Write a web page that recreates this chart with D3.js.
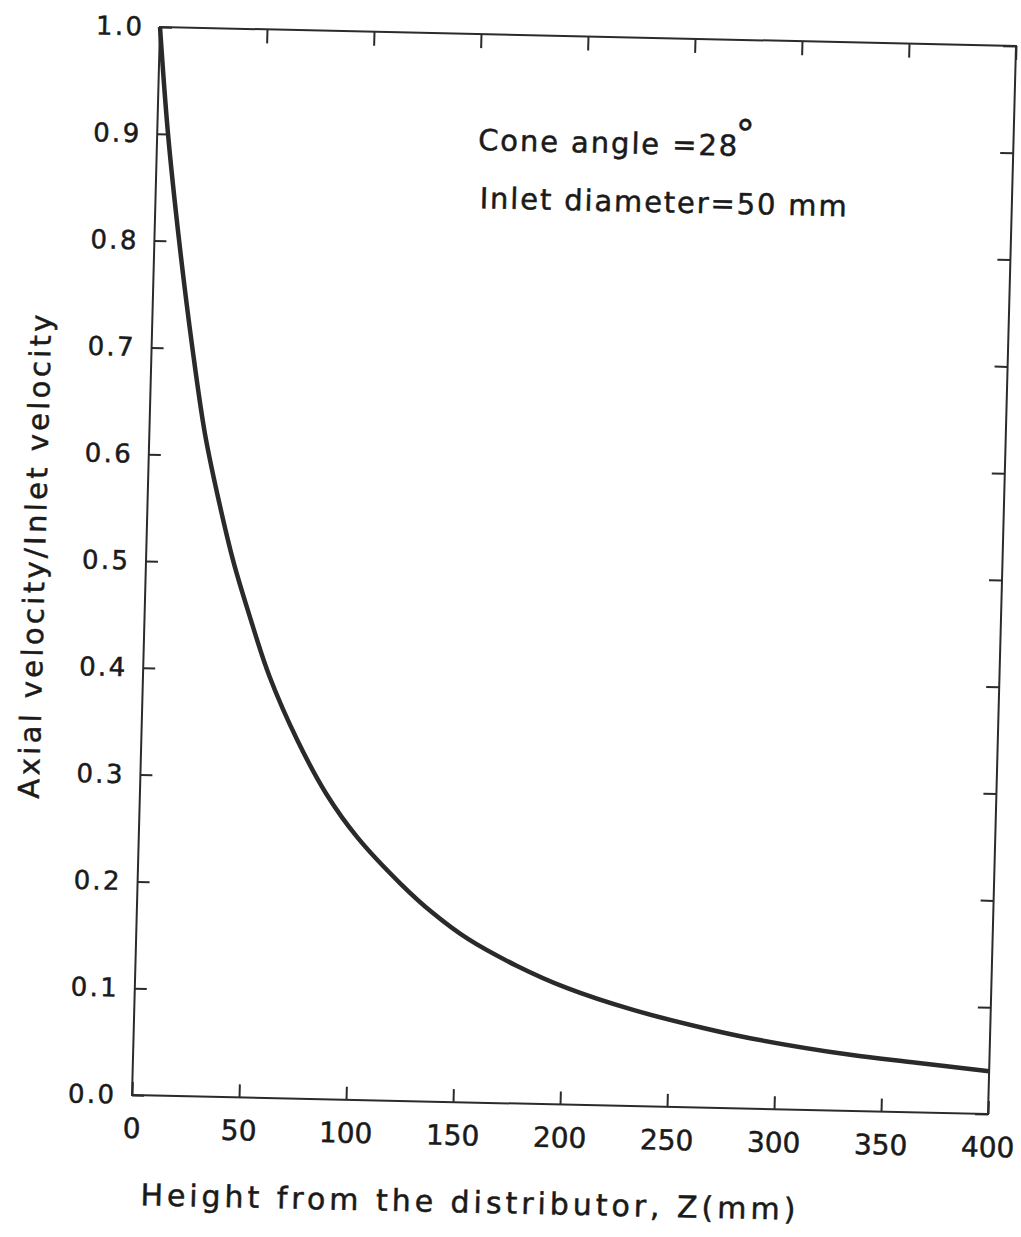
<!DOCTYPE html>
<html>
<head>
<meta charset="utf-8">
<script src="https://cdn.jsdelivr.net/npm/d3@7"></script>
<style>
  body { margin: 0; background: #fff; }
  svg { display: block; }
</style>
</head>
<body>
<svg id="chart"></svg>
<script>
// values
var heights = [0, 5, 11.5, 19, 26, 34, 41, 49, 59, 73, 87, 102, 123, 138, 155, 178, 202, 233, 265, 288, 335, 366, 400];
var velRatio = [1.000, 0.901, 0.801, 0.701, 0.620, 0.552, 0.500, 0.451, 0.395, 0.335, 0.286, 0.246, 0.203, 0.177, 0.153, 0.129, 0.109, 0.090, 0.075, 0.066, 0.0525, 0.0465, 0.040];
var xTicks = [0, 50, 100, 150, 200, 250, 300, 350, 400];
var yTicks = [0, 0.1, 0.2, 0.3, 0.4, 0.5, 0.6, 0.7, 0.8, 0.9, 1.0];
var notes = ["Cone angle =28", "Inlet diameter=50 mm"];

var width = 1021, height = 1237;
var w = 856, h = 1068;
var ink = "#2b2b2b";
var txt = "#1a1a1a";
var font = "DejaVu Sans, sans-serif";

var svg = d3.select("#chart")
    .attr("width", width)
    .attr("height", height);

svg.append("rect").attr("width", width).attr("height", height).attr("fill", "#fff");

// the scan is slightly skewed, so the whole plot sits in a sheared frame
var g = svg.append("g")
    .attr("transform", "matrix(1,0.0222,-0.0262,1,160,27)");

var x = d3.scaleLinear().domain([0, 400]).range([0, w]);
var y = d3.scaleLinear().domain([0, 1]).range([h, 0]);

function styleAxis(sel) {
  sel.select(".domain").remove();
  sel.selectAll(".tick line").attr("stroke", ink).attr("stroke-width", 2);
  sel.selectAll("text")
    .attr("fill", txt)
    .attr("stroke", txt)
    .attr("stroke-width", 0.5)
    .attr("font-family", font);
}

// bottom
g.append("g")
    .attr("transform", "translate(0," + h + ")")
    .call(d3.axisBottom(x).tickValues(xTicks).tickSize(-13).tickSizeOuter(0).tickPadding(23))
    .call(styleAxis)
    .selectAll("text").attr("font-size", 28);

// left
g.append("g")
    .call(d3.axisLeft(y).tickValues(yTicks).tickSize(-12).tickSizeOuter(0).tickPadding(18)
      .tickFormat(d3.format(".1f")))
    .call(styleAxis)
    .selectAll("text")
      .attr("font-size", 26)
      .attr("textLength", 46)
      .attr("lengthAdjust", "spacing");

// top
g.append("g")
    .call(d3.axisTop(x).tickValues(xTicks).tickSize(-14).tickSizeOuter(0).tickFormat(""))
    .call(styleAxis);

// right
g.append("g")
    .attr("transform", "translate(" + w + ",0)")
    .call(d3.axisRight(y).tickValues(yTicks).tickSize(-13).tickSizeOuter(0).tickFormat(""))
    .call(styleAxis);

// frame
g.append("rect")
    .attr("x", 0).attr("y", 0)
    .attr("width", w).attr("height", h)
    .attr("fill", "none")
    .attr("stroke", ink)
    .attr("stroke-width", 2);

// curve
var pts = heights.map(function(d, i) { return [d, velRatio[i]]; });
var line = d3.line()
    .curve(d3.curveCatmullRom.alpha(0.5))
    .x(function(d) { return x(d[0]); })
    .y(function(d) { return y(d[1]); });

g.append("path")
    .datum(pts)
    .attr("d", line)
    .attr("fill", "none")
    .attr("stroke", "#2a2a2a")
    .attr("stroke-width", 4.5)
    .attr("stroke-linejoin", "round");

function label(sel, size) {
  return sel.attr("font-family", font)
    .attr("font-size", size)
    .attr("fill", txt)
    .attr("stroke", txt)
    .attr("stroke-width", 0.5);
}

// axis titles
g.append("text")
    .attr("x", 11)
    .attr("y", h + 110)
    .call(label, 30)
    .attr("textLength", 655)
    .attr("lengthAdjust", "spacing")
    .text("Height from the distributor, Z(mm)");

g.append("text")
    .attr("transform", "translate(-101,532) rotate(-90)")
    .attr("text-anchor", "middle")
    .call(label, 29)
    .attr("textLength", 484)
    .attr("lengthAdjust", "spacing")
    .text("Axial velocity/Inlet velocity");

// annotations
g.append("text")
    .attr("x", 321).attr("y", 116)
    .call(label, 29)
    .attr("textLength", 259).attr("lengthAdjust", "spacing")
    .text(notes[0]);

g.append("text")
    .attr("x", 578).attr("y", 107)
    .call(label, 38)
    .text("°");

g.append("text")
    .attr("x", 324).attr("y", 174)
    .call(label, 29)
    .attr("textLength", 367).attr("lengthAdjust", "spacing")
    .text(notes[1]);
</script>
</body>
</html>
